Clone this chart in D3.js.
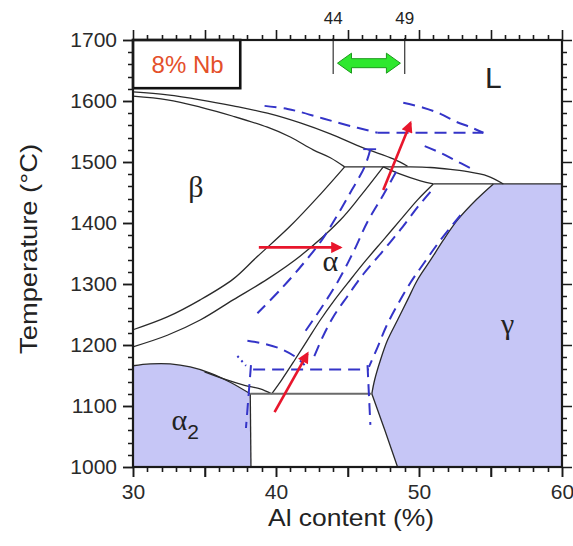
<!DOCTYPE html>
<html><head><meta charset="utf-8">
<script src="https://cdn.jsdelivr.net/npm/d3@7"></script>
<style>body{margin:0;background:#fff}svg{display:block}</style>
</head><body>
<svg id="chart" width="573" height="546"></svg>
<script>
// Axis ranges and tick labels
const alRange = [30, 60];
const tempRange = [1000, 1700];
const alTickLabels = [30, 40, 50, 60];
const tempTickLabels = [1000, 1100, 1200, 1300, 1400, 1500, 1600, 1700];
const topMarkLabels = [44, 49];

// Phase boundaries of the 8% Nb section, [Al %, T °C]
const liquidusBeta = [[30,1615],[32.4,1610],[34.7,1602],[37,1592],[39.4,1580],[41.7,1564],[43.8,1546],[46.1,1523],[48.2,1505],[49.2,1493]];
const liquidusAlpha = [[44.8,1492],[47.5,1492],[49.4,1492],[50.8,1491],[52.2,1488],[53.2,1485],[54.8,1477],[55.9,1464]];
const solidusBeta = [[30,1608],[32.4,1602],[34.7,1590],[37,1575],[39.4,1557],[41,1541],[42.6,1520],[43.8,1507],[44.8,1492]];
const betaTransus = [[30,1225],[32.4,1246],[34.7,1274],[37,1308],[38.6,1343],[41,1395],[43.1,1447],[44.8,1492]];
const alphaBetaLine = [[30,1197],[32.4,1216],[34.7,1241],[37,1274],[39.4,1308],[41.7,1346],[44.5,1405],[45.9,1444],[47.5,1492]];
const solidusAlpha = [[47.5,1492],[48.7,1480],[50.1,1469],[51,1464]];
const peritecticGamma = [[51,1464],[60,1464]];
const alphaGammaLine = [[51,1464],[49.9,1438],[48.7,1405],[47.5,1372],[46.3,1339],[45.2,1307],[44.1,1274],[43.1,1241],[42.2,1208],[41.3,1175],[40.4,1143],[39.7,1120]];
const gammaBoundary = [[55.2,1464],[54,1438],[52.7,1405],[51.7,1372],[50.8,1339],[49.9,1307],[49.2,1274],[48.5,1241],[47.8,1208],[47.3,1175],[46.9,1143],[46.7,1120]];
const gammaLower = [[46.7,1120],[47.6,1061],[48.5,1000]];
const eutectoidLine = [[35,1156],[36.4,1144],[37.8,1134],[38.9,1128],[39.7,1120]];
const alpha2Top = [[30,1166],[31.2,1169],[32.6,1169],[34,1164],[35.4,1154],[36.8,1139],[38.2,1120]];
const alpha2Side = [[38.2,1120],[38.25,1000]];
const eutectoidIso = [[38.2,1120],[46.7,1120]];

// Shifted boundaries (dashed)
const shiftedLiquidus = [[39.2,1592],[40.8,1587],[41.7,1582],[42.9,1574],[44.1,1566],[45.7,1556],[47.1,1548]];
const shiftedPeritectic = [[47.1,1548],[54.5,1548]];
const shiftedLiquidusUpper = [[48.9,1597],[50.3,1589],[51.5,1579],[52.5,1567],[53.6,1557],[54.5,1548]];
const shiftedSolidus = [[50.4,1526],[51.5,1515],[52.5,1503],[53.6,1490]];
const shiftedTransusA = [[46.6,1521],[46.2,1492],[45.3,1454],[44.3,1413],[43.2,1372],[42,1336],[40.4,1293],[38.7,1252]];
const shiftedTransusCap = [[46.1,1521],[47.0,1521]];
const shiftedTransusB = [[48.4,1484],[47.5,1446],[46.4,1402],[45.4,1352],[44.3,1303],[43.2,1262],[42,1221]];
const shiftedAlphaGamma = [[50.8,1451],[49.9,1426],[48.7,1389],[47.4,1352],[46.1,1316],[45,1280],[44,1246],[43.2,1210],[42.6,1177]];
const shiftedGamma = [[52.9,1413],[51.5,1372],[50.4,1336],[49.4,1302],[48.5,1266],[47.7,1230],[47.1,1196],[46.5,1164]];
const shiftedEutectoid = [[38,1207],[39.2,1202],[40.4,1193],[41.4,1180],[42,1167]];
const shiftedIso = [[38.4,1160],[46.5,1160]];
const shiftedAlpha2Side = [[38.25,1167],[37.9,1064]];
const shiftedGammaSide = [[46.4,1167],[46.6,1069]];
const shiftedAlpha2Tip = [[37.3,1182],[37.9,1166]];

// Heat-treatment paths (red arrows)
const treatmentPaths = [
  [[38.8,1360],[44.5,1360]],
  [[47.5,1454],[49.4,1564]],
  [[39.9,1090],[42.2,1186]]
];
// Composition window (green arrow)
const windowRange = [44.3, 48.7];
const windowTemp = 1662;

const svg = d3.select("#chart");
const x = d3.scaleLinear().domain(alRange).range([133, 562]);
const y = d3.scaleLinear().domain(tempRange).range([467, 40]);

const smooth = d3.line().x(d => x(d[0])).y(d => y(d[1])).curve(d3.curveCatmullRom.alpha(0.5));
const straight = d3.line().x(d => x(d[0])).y(d => y(d[1]));
const pt = d => `L${x(d[0])},${y(d[1])}`;
const sans = "Liberation Sans, Arial, sans-serif";
const serif = "Liberation Serif, Times New Roman, serif";

const fillColor = "#c6c6f6";
// alpha2 field
svg.append("path")
  .attr("d", smooth(alpha2Top) + pt(alpha2Side[1]) + pt([30, 1000]) + "Z")
  .attr("fill", fillColor);
// gamma field
svg.append("path")
  .attr("d", smooth(gammaBoundary) + gammaLower.slice(1).map(pt).join("") + pt([60, 1000]) + pt([60, 1464]) + "Z")
  .attr("fill", fillColor);

// Solid boundaries
const solidGroup = svg.append("g").attr("fill", "none").attr("stroke", "#2a2a2a").attr("stroke-width", 1.3);
[liquidusBeta, liquidusAlpha, solidusBeta, betaTransus, alphaBetaLine, solidusAlpha,
 alphaGammaLine, gammaBoundary, eutectoidLine, alpha2Top].forEach(c => solidGroup.append("path").attr("d", smooth(c)));
[peritecticGamma, gammaLower, alpha2Side].forEach(c => solidGroup.append("path").attr("d", straight(c)));
svg.append("path").attr("d", straight(eutectoidIso)).attr("fill", "none")
  .attr("stroke", "#6a6a6a").attr("stroke-width", 2);

// Dashed boundaries
const blue = "#3434c8";
const dashGroup = svg.append("g").attr("fill", "none").attr("stroke", blue)
  .attr("stroke-width", 2).attr("stroke-dasharray", "12,7");
[shiftedLiquidus, shiftedLiquidusUpper, shiftedSolidus, shiftedTransusA, shiftedTransusB,
 shiftedAlphaGamma, shiftedGamma, shiftedEutectoid].forEach(c => dashGroup.append("path").attr("d", smooth(c)));
[shiftedPeritectic, shiftedIso, shiftedAlpha2Side, shiftedGammaSide].forEach(c => dashGroup.append("path").attr("d", straight(c)));
svg.append("path").attr("d", straight(shiftedTransusCap)).attr("fill", "none").attr("stroke", blue).attr("stroke-width", 1.8);
svg.append("path").attr("d", straight(shiftedAlpha2Tip)).attr("fill", "none").attr("stroke", blue)
  .attr("stroke-width", 2).attr("stroke-dasharray", "2,4");

// Red arrows
const defs = svg.append("defs");
defs.append("marker").attr("id", "redHead").attr("viewBox", "0 0 10 10")
  .attr("refX", 8).attr("refY", 5).attr("markerWidth", 5.2).attr("markerHeight", 4.4)
  .attr("orient", "auto").append("path").attr("d", "M0,0L10,5L0,10Z").attr("fill", "#e8162c");
treatmentPaths.forEach(p => svg.append("path").attr("d", straight(p))
  .attr("stroke", "#e8162c").attr("stroke-width", 2.6).attr("fill", "none")
  .attr("marker-end", "url(#redHead)"));

// Composition window markers at the top
topMarkLabels.forEach(v => {
  svg.append("line").attr("x1", x(v)).attr("x2", x(v)).attr("y1", y(1700) - 2).attr("y2", y(1700) + 34)
    .attr("stroke", "#444").attr("stroke-width", 1.3);
  svg.append("text").attr("x", x(v)).attr("y", 24).attr("text-anchor", "middle")
    .attr("font-family", sans).attr("font-size", 17).attr("fill", "#222").text(v);
});
{
  const x0 = x(windowRange[0]), x1 = x(windowRange[1]), yc = y(windowTemp);
  const hl = 14, hh = 10, sh = 4.5;
  const pts = [[x0, yc], [x0 + hl, yc - hh], [x0 + hl, yc - sh], [x1 - hl, yc - sh], [x1 - hl, yc - hh],
    [x1, yc], [x1 - hl, yc + hh], [x1 - hl, yc + sh], [x0 + hl, yc + sh], [x0 + hl, yc + hh]];
  svg.append("path").attr("d", "M" + pts.map(p => p.join(",")).join("L") + "Z")
    .attr("fill", "#2ee82e").attr("stroke", "#1b9a1b").attr("stroke-width", 1);
}

// Composition box
svg.append("rect").attr("x", x(30)).attr("y", y(1700)).attr("width", x(37.5) - x(30))
  .attr("height", y(1621) - y(1700)).attr("fill", "#fff").attr("stroke", "#111").attr("stroke-width", 2.6);
svg.append("text").attr("x", (x(30) + x(37.5)) / 2 + 1).attr("y", 73).attr("text-anchor", "middle")
  .attr("font-family", sans).attr("font-size", 24).attr("fill", "#e4502a")
  .text("8% Nb");

// Phase labels
svg.append("text").attr("x", x(34.4)).attr("y", y(1442)).attr("text-anchor", "middle")
  .attr("font-family", serif).attr("font-size", 30).attr("fill", "#222").text("β");
svg.append("text").attr("x", x(43.8)).attr("y", y(1322)).attr("text-anchor", "middle")
  .attr("font-family", serif).attr("font-size", 30).attr("fill", "#222").text("α");
svg.append("text").attr("x", x(56.2)).attr("y", y(1218)).attr("text-anchor", "middle")
  .attr("font-family", serif).attr("font-size", 30).attr("fill", "#222").text("γ");
{
  const t = svg.append("text").attr("x", x(32.7)).attr("y", y(1060))
    .attr("font-family", serif).attr("font-size", 30).attr("fill", "#222");
  t.append("tspan").text("α");
  t.append("tspan").attr("font-family", sans).attr("font-size", 21)
    .attr("dy", 9).text("2");
}
svg.append("text").attr("x", x(55.2)).attr("y", y(1621)).attr("text-anchor", "middle")
  .attr("font-family", sans).attr("font-size", 30).attr("fill", "#222").text("L");

// Axis titles
svg.append("text").attr("x", 351).attr("y", 526).attr("text-anchor", "middle")
  .attr("font-family", sans).attr("font-size", 24).attr("fill", "#222")
  .attr("textLength", 166).attr("lengthAdjust", "spacingAndGlyphs").text("Al content (%)");
svg.append("text").attr("transform", "translate(37,249) rotate(-90)").attr("text-anchor", "middle")
  .attr("font-family", sans).attr("font-size", 24).attr("fill", "#222")
  .attr("textLength", 210).attr("lengthAdjust", "spacingAndGlyphs").text("Temperature (°C)");

// Axes: tick labels from d3 axes
function styleAxis(g) {
  g.select(".domain").remove();
  g.selectAll("line").attr("stroke", "#222").attr("stroke-width", 1.5);
  g.selectAll("text").attr("font-family", sans).attr("font-size", 21).attr("fill", "#2a2a2a");
}
const alMinor = d3.range(30, 60.001, 1), alMajor = d3.range(30, 60.001, 5);
const tMinor = d3.range(1000, 1700.001, 20), tMajor = d3.range(1000, 1700.001, 100);
const labelIf = list => d => list.includes(d) ? d : "";

svg.append("g").attr("transform", "translate(0,467)")
  .call(d3.axisBottom(x).tickValues(alMajor).tickSize(10).tickSizeOuter(0).tickPadding(7).tickFormat(labelIf(alTickLabels))).call(styleAxis);
svg.append("g").attr("transform", "translate(133,0)")
  .call(d3.axisLeft(y).tickValues(tMajor).tickSize(10).tickSizeOuter(0).tickPadding(6).tickFormat(labelIf(tempTickLabels))).call(styleAxis);

// Tick marks on all four sides, placed with the same scales
const tickPath = (values, scale, isMajor, horizontal, base, dir) => values.map(v => {
  const len = (isMajor(v) ? 10 : 5) * dir;
  const p = Math.round(scale(v)) + 0.5;
  return horizontal ? `M${p},${base}v${len}` : `M${base},${p}h${len}`;
}).join("");
const isAlMajor = v => v % 5 === 0, isTMajor = v => v % 100 === 0;
const tickD = tickPath(alMinor, x, isAlMajor, true, 467, 1) + tickPath(alMinor, x, isAlMajor, true, 40, -1) +
  tickPath(tMinor, y, isTMajor, false, 133, -1) + tickPath(tMinor, y, isTMajor, false, 562, 1);
svg.append("path").attr("d", tickD).attr("fill", "none").attr("stroke", "#1a1a1a").attr("stroke-width", 1.6);

// Frame
svg.append("rect").attr("x", x(30)).attr("y", y(1700)).attr("width", x(60) - x(30))
  .attr("height", y(1000) - y(1700)).attr("fill", "none").attr("stroke", "#1a1a1a").attr("stroke-width", 2.2);
</script>
</body></html>
